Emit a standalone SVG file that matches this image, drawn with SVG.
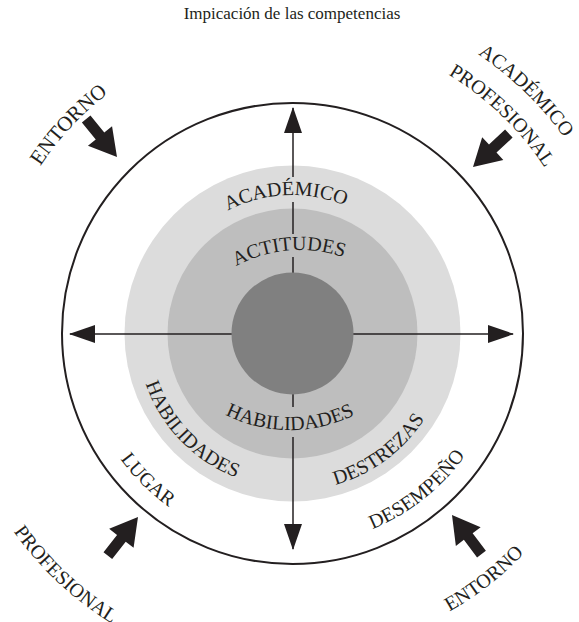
<svg xmlns="http://www.w3.org/2000/svg" width="579" height="622" viewBox="0 0 579 622">
<style>
.lbl{font-family:"Liberation Serif","DejaVu Serif",serif;font-size:20px;fill:#231f20}
.big{font-size:21px}
.title{font-family:"Liberation Serif","DejaVu Serif",serif;font-size:17px;fill:#231f20}
.axis{stroke:#231f20;stroke-width:1.5;fill:none}
.blk{fill:#231f20}
</style>
<defs>
<marker id="ah" viewBox="0 0 26 18" markerWidth="26" markerHeight="18" refX="25" refY="9" orient="auto" markerUnits="userSpaceOnUse"><path d="M0,0 L26,9 L0,18 z" fill="#231f20"/></marker>
<polygon id="barrow" points="0,-5.5 22,-5.5 22,-15.5 49,0 22,15.5 22,5.5 0,5.5"/>
<path id="pAcadIn" d="M155.18,314.99 A138,138 0 0 1 426.73,303.13"/>
<path id="pActit" d="M165.58,372.53 A135,135 0 0 1 430.58,350.74"/>
<path id="pHabIn" d="M147.2,310.18 A145,145 0 0 0 432.8,310.18"/>
<path id="pHabOut" d="M166.6,241.89 A155,155 0 0 0 378.67,461.5"/>
<path id="pLugar" d="M116.46,212.35 A213,213 0 0 0 415.69,506.41"/>
<path id="pDestr" d="M183.24,447.61 A158,158 0 0 0 433.4,262.5"/>
<path id="pDesem" d="M151.52,491.77 A212,212 0 0 0 478.31,231.85"/>
<path id="pEntTL" d="M50.8,514.75 A302,302 0 0 1 456.48,79.72"/>
<path id="pAcadOut" d="M95.09,61.98 A335,335 0 0 1 569.73,520.33"/>
<path id="pProfTR" d="M114.49,88.68 A302,302 0 0 1 542.37,501.88"/>
<path id="pProfBL" d="M13.57,531.6 A342,342 0 0 0 554,552.83"/>
<path id="pEntBR" d="M77.88,570.8 A320,320 0 0 0 574.54,182.77"/>
</defs>
<rect width="579" height="622" fill="#ffffff"/>
<g id="title"><text class="title" x="292" y="19" text-anchor="middle">Impicación de las competencias</text></g>
<g id="rings">
<circle cx="292.5" cy="333.5" r="230.5" fill="#ffffff" stroke="#231f20" stroke-width="2"/>
<circle cx="292.5" cy="333.5" r="168" fill="#dcdcdc"/>
<circle cx="292.5" cy="333.5" r="125" fill="#bebebe"/>
</g>
<g id="connectors">
<line class="axis" x1="293" y1="177" x2="293" y2="108" marker-end="url(#ah)"/>
<line class="axis" x1="293" y1="202" x2="293" y2="234"/>
<line class="axis" x1="293" y1="257" x2="293" y2="275"/>
<line class="axis" x1="293" y1="392" x2="293" y2="407"/>
<line class="axis" x1="293" y1="437" x2="293" y2="549" marker-end="url(#ah)"/>
<line class="axis" x1="235" y1="334" x2="70" y2="334" marker-end="url(#ah)"/>
<line class="axis" x1="350" y1="334" x2="513" y2="334" marker-end="url(#ah)"/>
</g>
<g id="core"><circle cx="292.5" cy="333.5" r="61" fill="#808080"/></g>
<g id="lbl-academico-in"><text class="lbl"><textPath href="#pAcadIn" startOffset="50%" text-anchor="middle">ACADÉMICO</textPath></text></g>
<g id="lbl-actitudes"><text class="lbl"><textPath href="#pActit" startOffset="50%" text-anchor="middle">ACTITUDES</textPath></text></g>
<g id="lbl-habilidades-in"><text class="lbl"><textPath href="#pHabIn" startOffset="50%" text-anchor="middle">HABILIDADES</textPath></text></g>
<g id="lbl-habilidades-out"><text class="lbl"><textPath href="#pHabOut" startOffset="50%" text-anchor="middle">HABILIDADES</textPath></text></g>
<g id="lbl-lugar"><text class="lbl"><textPath href="#pLugar" startOffset="50%" text-anchor="middle">LUGAR</textPath></text></g>
<g id="lbl-destrezas"><text class="lbl"><textPath href="#pDestr" startOffset="50%" text-anchor="middle">DESTREZAS</textPath></text></g>
<g id="lbl-desempeno"><text class="lbl"><textPath href="#pDesem" startOffset="50%" text-anchor="middle">DESEMPEÑO</textPath></text></g>
<g id="lbl-entorno-tl"><text class="lbl big"><textPath href="#pEntTL" startOffset="50%" text-anchor="middle">ENTORNO</textPath></text></g>
<g id="lbl-academico-prof">
<text class="lbl"><textPath href="#pAcadOut" startOffset="50%" text-anchor="middle">ACADÉMICO</textPath></text>
<text class="lbl"><textPath href="#pProfTR" startOffset="50%" text-anchor="middle">PROFESIONAL</textPath></text>
</g>
<g id="lbl-profesional-bl"><text class="lbl"><textPath href="#pProfBL" startOffset="0">PROFESIONAL</textPath></text></g>
<g id="lbl-entorno-br"><text class="lbl"><textPath href="#pEntBR" startOffset="50%" text-anchor="middle">ENTORNO</textPath></text></g>
<g id="arrow-tl"><use href="#barrow" class="blk" transform="translate(117,157) rotate(51) translate(-49,0)"/></g>
<g id="arrow-tr"><use href="#barrow" class="blk" transform="translate(473,167) rotate(137) translate(-49,0)"/></g>
<g id="arrow-bl"><use href="#barrow" class="blk" transform="translate(138,517) rotate(-52) translate(-49,0)"/></g>
<g id="arrow-br"><use href="#barrow" class="blk" transform="translate(452,515) rotate(-127) translate(-49,0)"/></g>
</svg>
